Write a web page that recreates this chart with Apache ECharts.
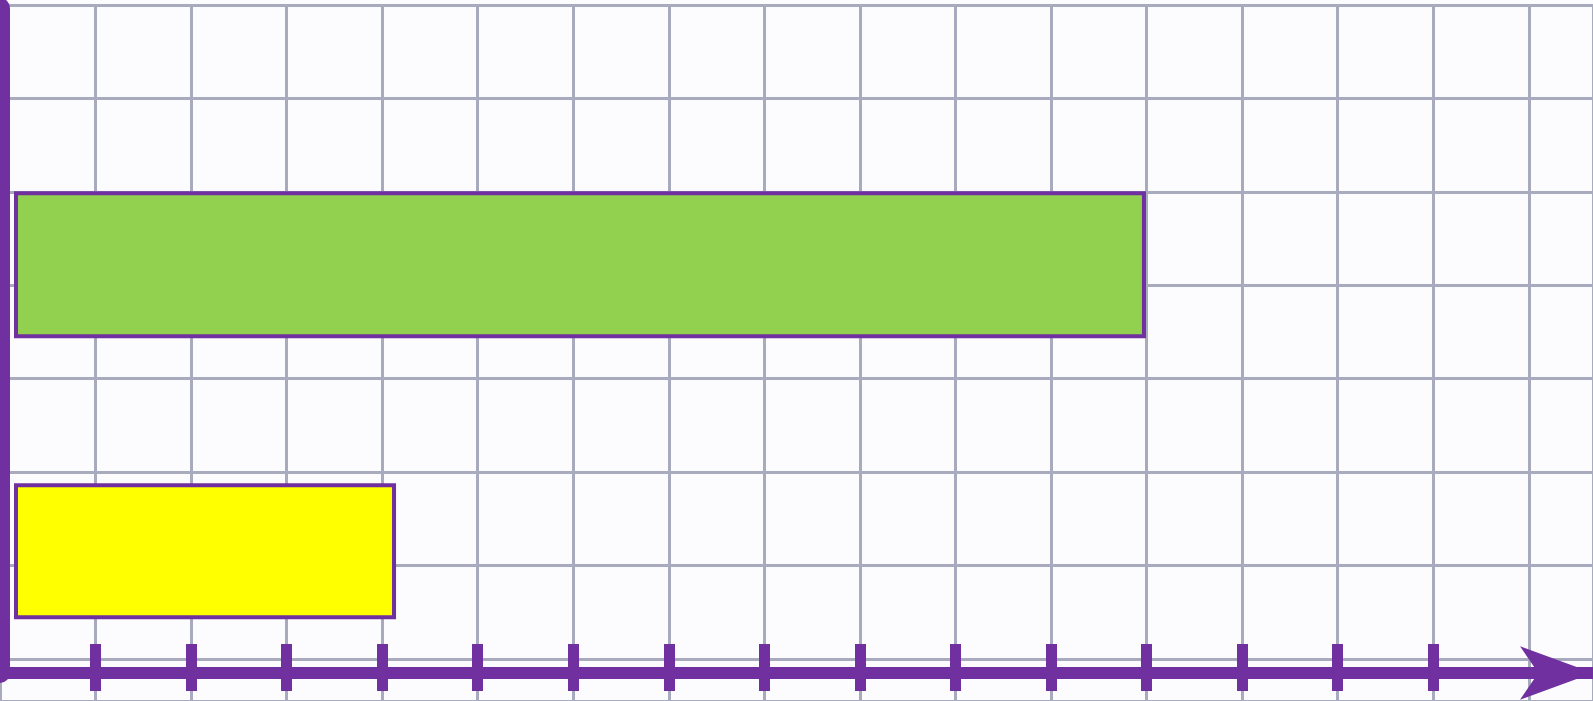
<!DOCTYPE html>
<html>
<head>
<meta charset="utf-8">
<script src="https://cdn.jsdelivr.net/npm/echarts@6/dist/echarts.min.js"></script>
<style>
html,body{margin:0;padding:0;background:#fdfdff;}
#c{width:1593px;height:701px;}
</style>
</head>
<body>
<div id="c"></div>
<script>
// Data
const categories = ['Yellow', 'Green'];
const yellowValues = [4.05, '-'];
const greenValues = ['-', 12];
const tickValues = [1, 2, 3, 4, 5, 6, 7, 8, 9, 10, 11, 12, 13, 14, 15];

const purple = '#7030a0';
const gridColor = '#a7abbd';

const chart = echarts.init(document.getElementById('c'), null, {renderer: 'canvas'});

const W = 1593, H = 701;
const colPx = 95.55, rowPx = 93.43;
const paperTop = 5;
const unitPx = 94.33, barLeft = 14;

const option = {
  backgroundColor: '#fcfcff',
  animation: false,
  grid: [
    {left: 0, right: 0, top: paperTop, bottom: 0},
    {left: barLeft, right: W - barLeft - 16 * unitPx, top: 121.5, height: 573},
    {left: 0, right: 0, top: 8, bottom: H - 673},
    {left: 0, right: 0, top: 8, bottom: H - 673}
  ],
  xAxis: [
    {gridIndex: 0, type: 'value', min: 0, max: W / colPx, interval: 1,
     axisLine: {show: false}, axisTick: {show: false}, axisLabel: {show: false},
     splitLine: {show: true, lineStyle: {color: gridColor, width: 3}}},
    {gridIndex: 1, type: 'value', min: 0, max: 16, interval: 1,
     axisLine: {show: false}, axisTick: {show: false}, axisLabel: {show: false},
     splitLine: {show: false}},
    {gridIndex: 2, type: 'value', min: 0, max: W / colPx, interval: 1, position: 'bottom',
     axisLine: {show: true, onZero: false, symbol: ['none', 'arrow'], symbolSize: [40, 73], symbolOffset: [0, 0],
       lineStyle: {color: purple, width: 12}},
     axisTick: {show: true, inside: true, length: 29, customValues: tickValues, lineStyle: {color: purple, width: 11}},
     axisLabel: {show: false}, splitLine: {show: false}},
    {gridIndex: 3, type: 'value', min: 0, max: W / colPx, interval: 1, position: 'bottom',
     axisLine: {show: false},
     axisTick: {show: true, inside: false, length: 18, customValues: tickValues, lineStyle: {color: purple, width: 11}},
     axisLabel: {show: false}, splitLine: {show: false}}
  ],
  yAxis: [
    {gridIndex: 0, type: 'value', inverse: true, min: 0, max: (H - paperTop) / rowPx, interval: 1,
     axisLine: {show: false}, axisTick: {show: false}, axisLabel: {show: false},
     splitLine: {show: true, lineStyle: {color: gridColor, width: 3}}},
    {gridIndex: 1, type: 'category', data: categories, position: 'left',
     axisLine: {show: false}, axisTick: {show: false}, axisLabel: {show: false}},
    {gridIndex: 1, type: 'category', data: categories, position: 'right',
     axisLine: {show: false}, axisTick: {show: false}, axisLabel: {show: false}},
    {gridIndex: 2, type: 'value', position: 'left',
     axisLine: {show: true, onZero: false, lineStyle: {color: purple, width: 20}},
     axisTick: {show: false}, axisLabel: {show: false}, splitLine: {show: false}},
    {gridIndex: 3, type: 'value', show: false}
  ],
  series: [
    {type: 'bar', xAxisIndex: 1, yAxisIndex: 1, data: yellowValues, barWidth: 136,
     itemStyle: {color: '#ffff00', borderColor: purple, borderWidth: 4}},
    {type: 'bar', xAxisIndex: 1, yAxisIndex: 2, data: greenValues, barWidth: 147,
     itemStyle: {color: '#92d050', borderColor: purple, borderWidth: 4}}
  ]
};
chart.setOption(option);
</script>
</body>
</html>
